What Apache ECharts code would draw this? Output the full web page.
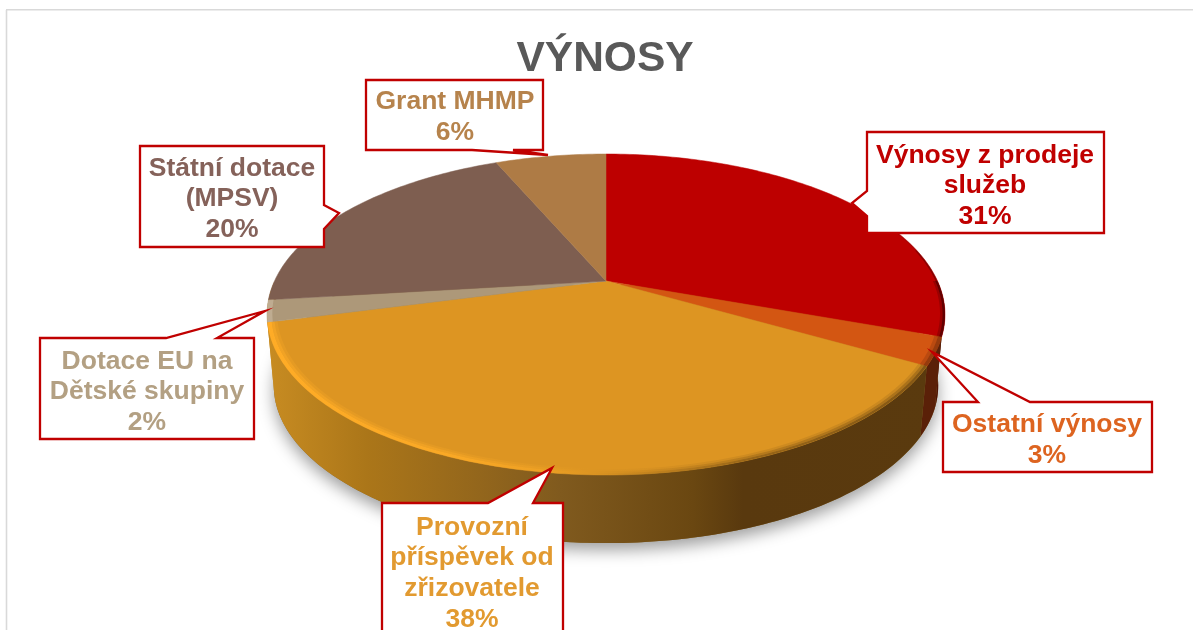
<!DOCTYPE html>
<html>
<head>
<meta charset="utf-8">
<style>html,body{margin:0;padding:0;background:#fff}#c{width:1193px;height:630px}</style>
<script src="https://cdn.jsdelivr.net/npm/echarts@6/dist/echarts.min.js"></script>
</head>
<body>
<div id="c"></div>
<script>
// ---- data ----
const titleText = 'VÝNOSY';
const categories = ['Výnosy z prodeje\nslužeb', 'Ostatní výnosy', 'Provozní\npříspěvek od\nzřizovatele', 'Dotace EU na\nDětské skupiny', 'Státní dotace\n(MPSV)', 'Grant MHMP'];
const values = [30.5, 2.8, 37.6, 2.2, 20.45, 6.45];
// ---- colours ----
const faceColors = ['#bd0000', '#d35612', '#dd9522', '#ad9879', '#7e5e50', '#ae7b45'];
const textColors = ['#c00000', '#dd6420', '#e29a30', '#b3a083', '#85625a', '#b6834c'];
// ---- layout (perspective disc + callout boxes) ----
const apex = [606, 281];
const persp = { A: 331.5, B: 153.5, k: 0.2087, depth: 72, baseScale: 0.98 };
const callouts = [
  { box: [867, 132, 1104, 233], side: 'left',   tail: [[867, 216], [852, 203], [867, 191]], text: [985, 186] },
  { box: [943, 402, 1152, 472], side: 'top',    tail: [[978, 402], [932, 352], [1030, 402]], text: [1047, 440] },
  { box: [382, 503, 563, 650],  side: 'top',    tail: [[488, 503], [552, 468], [533, 503]], text: [472, 573.5] },
  { box: [40, 338, 254, 439],   side: 'top',    tail: [[166, 338], [265, 311], [217, 338]], text: [147, 392] },
  { box: [140, 146, 324, 247],  side: 'right',  tail: [[324, 205], [339, 213], [324, 229]], text: [232, 199] },
  { box: [366, 80, 543, 150],   side: 'bottom', tail: [[513, 150], [548, 155], [472, 150]], text: [455, 117] }
];

const total = values.reduce((a, b) => a + b, 0);
const rad = d => d * Math.PI / 180;
function sliceRange(i) {
  let s = 0;
  for (let j = 0; j < i; j++) s += values[j];
  return [s / total * 360, (s + values[i]) / total * 360];
}
// top-face projection of disc angle (clockwise from 12 o'clock)
function topPt(deg, r) {
  r = r === undefined ? 1 : r;
  const u = Math.sin(rad(deg)) * r, v = -Math.cos(rad(deg)) * r, w = 1 - persp.k * v;
  return [apex[0] + persp.A * u / w, apex[1] + persp.B * v / w];
}
function basePt(deg) {
  const u = Math.sin(rad(deg)), v = -Math.cos(rad(deg)), w = 1 - persp.k * v;
  return [apex[0] + persp.baseScale * persp.A * u / w, apex[1] + persp.depth + persp.baseScale * persp.B * v / w];
}
function arc(fn, a, b, r) {
  const n = Math.max(2, Math.ceil(Math.abs(b - a))), pts = [];
  for (let i = 0; i <= n; i++) pts.push(fn(a + (b - a) * i / n, r));
  return pts;
}
const hGrad = (stops) => new echarts.graphic.LinearGradient(266, 0, 945, 0,
  stops.map(s => ({ offset: (s[0] - 266) / (945 - 266), color: s[1] })), true);
const wallOrange = () => hGrad([[266, '#c88c22'], [367, '#ab7619'], [480, '#93661c'], [560, '#805a1e'], [693, '#6a4711'], [743, '#59390e'], [945, '#5a3a0e']]);
const wallFills = [() => '#4e1206', () => '#5a2008', wallOrange, wallOrange, wallOrange, wallOrange];

function renderWall(params) {
  const [a0, b0] = sliceRange(params.dataIndex);
  const a = Math.max(a0, 90), b = Math.min(b0, 270);
  if (b <= a) return { type: 'group', children: [] };
  const pts = arc(topPt, a, b).concat(arc(basePt, b, a));
  return { type: 'polygon', shape: { points: pts }, style: { fill: wallFills[params.dataIndex](), stroke: null } };
}
function renderFace(params) {
  const [a, b] = sliceRange(params.dataIndex);
  const pts = [apex.slice()].concat(arc(topPt, a, b));
  return { type: 'polygon', shape: { points: pts },
    style: { fill: faceColors[params.dataIndex], stroke: faceColors[params.dataIndex], lineWidth: 0.5 } };
}
function renderShadow() {
  return { type: 'polygon', shape: { points: arc(basePt, 60, 300) },
    style: { fill: '#8a6a30', shadowBlur: 16, shadowColor: 'rgba(0,0,0,0.38)', shadowOffsetX: 0, shadowOffsetY: 7 } };
}
// strip along the face edge between two radial fractions
function strip(a, b, r1, r2, fill) {
  return { type: 'polygon', shape: { points: arc(topPt, a, b, r1).concat(arc(topPt, b, a, r2)) }, style: { fill, stroke: null } };
}
const lit = m => hGrad([[266, `rgba(255,172,38,${m})`], [450, `rgba(255,172,38,${0.85 * m})`], [540, `rgba(255,172,38,${0.5 * m})`], [590, 'rgba(255,172,38,0)'], [945, 'rgba(255,172,38,0)']]);
const shade = m => hGrad([[266, 'rgba(90,58,14,0)'], [590, 'rgba(90,58,14,0)'], [750, `rgba(90,58,14,${0.75 * m})`], [945, `rgba(90,58,14,${m})`]]);
function renderRim(params) {
  const i = params.dataIndex, [a, b] = sliceRange(i);
  let kids = [];
  if (i === 2) {
    kids = [
      strip(a, b, 1, 0.988, lit(1)), strip(a, b, 0.988, 0.98, lit(0.6)), strip(a, b, 0.98, 0.972, lit(0.25)),
      strip(a, b, 1, 0.992, shade(0.7)), strip(a, b, 0.992, 0.984, shade(0.4)), strip(a, b, 0.984, 0.976, shade(0.15))
    ];
  } else if (i === 0) {
    kids = [
      strip(62, 78, 1, 0.996, 'rgba(60,0,0,0.2)'),
      strip(78, 90, 1, 0.994, 'rgba(60,0,0,0.4)'),
      strip(90, b, 1, 0.993, 'rgba(50,0,0,0.65)'),
      strip(90, b, 0.993, 0.986, 'rgba(50,0,0,0.25)')
    ];
  } else if (i === 1) {
    kids = [strip(a, b, 1, 0.99, 'rgba(90,32,8,0.5)'), strip(a, b, 0.99, 0.98, 'rgba(90,32,8,0.2)')];
  } else if (i === 3) {
    kids = [strip(a, b, 1, 0.985, 'rgba(205,190,165,0.55)')];
  }
  return { type: 'group', children: kids };
}
function renderCallout(params) {
  const i = params.dataIndex, c = callouts[i], [l, t, r, bt] = c.box;
  const on = s => (c.side === s ? c.tail : []);
  const pts = [[l, t]].concat(on('top'), [[r, t]], on('right'), [[r, bt]], on('bottom'), [[l, bt]], on('left'));
  const pct = Math.round(values[i] / total * 100 + 1e-9);
  return { type: 'group', children: [
    { type: 'polygon', shape: { points: pts }, style: { fill: '#fff', stroke: '#c00000', lineWidth: 2.3, lineJoin: 'miter' } },
    { type: 'text', style: { text: categories[i] + '\n' + pct + '%', x: c.text[0], y: c.text[1],
        align: 'center', verticalAlign: 'middle', fill: textColors[i],
        font: 'bold 26.5px "Liberation Sans", Arial, sans-serif', lineHeight: 30.7 } }
  ] };
}
const custom = (name, fn, z, data) => ({ type: 'custom', name, coordinateSystem: 'none', renderItem: fn, z, silent: true, animation: false, clip: false, data: data || values });

const chart = echarts.init(document.getElementById('c'), null, { renderer: 'canvas' });
chart.setOption({
  animation: false,
  backgroundColor: '#fff',
  title: { text: titleText, left: 600, top: 33, textAlign: 'center',
    textStyle: { fontFamily: '"Liberation Sans", Arial, sans-serif', fontWeight: 'bold', fontSize: 42.5, color: '#595959' } },
  graphic: [
    { type: 'line', shape: { x1: 6.5, y1: 630, x2: 6.5, y2: 10 }, style: { stroke: '#d9d9d9', lineWidth: 1.6 }, silent: true },
    { type: 'line', shape: { x1: 6, y1: 9.8, x2: 1193, y2: 9.8 }, style: { stroke: '#d9d9d9', lineWidth: 1.6 }, silent: true }
  ],
  series: [
    custom('shadow', renderShadow, 1, [total]),
    custom('walls', renderWall, 2),
    custom('faces', renderFace, 3),
    custom('rims', renderRim, 4),
    custom('callouts', renderCallout, 5)
  ]
});
</script>
</body>
</html>
